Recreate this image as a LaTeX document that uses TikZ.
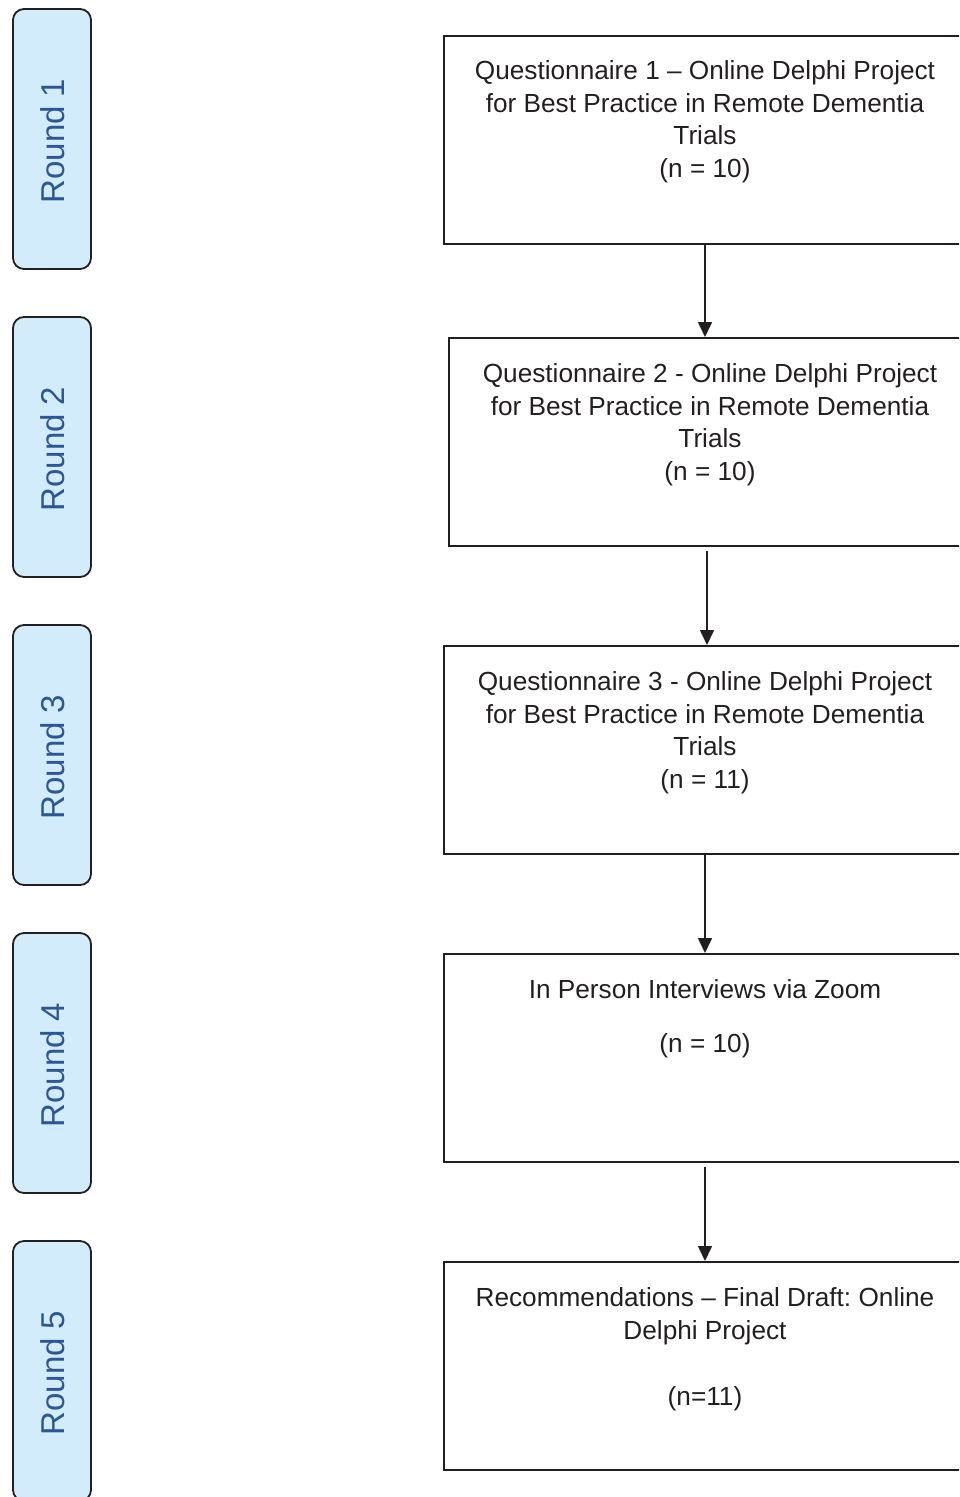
\documentclass[tikz,border=0pt]{standalone}
\usepackage{fontspec}
\setmainfont{Liberation Sans}
\usetikzlibrary{arrows.meta}
\frenchspacing
\definecolor{roundfill}{HTML}{D3ECFB}
\definecolor{roundtext}{HTML}{2B5797}
\definecolor{ink}{HTML}{231F20}
\tikzset{
  roundbox/.style={draw=ink, line width=1.8pt, fill=roundfill, rounded corners=11pt,
    minimum width=78pt, minimum height=260pt, inner sep=0pt},
  roundlabel/.style={rotate=90, text=roundtext, font=\fontsize{33}{38}\selectfont, inner sep=0pt},
  qbox/.style={draw=ink, line width=1.6pt, minimum width=560pt, minimum height=208pt,
    anchor=north west, inner sep=0pt},
  qtext/.style={anchor=north, align=center, inner sep=0pt, text=ink,
    font=\fontsize{26.2}{32.9}\selectfont},
  arr/.style={draw=ink, line width=1.6pt, -{Triangle[width=14pt,length=15pt]}}
}
\begin{document}
\begin{tikzpicture}[x=1pt,y=1pt]
\useasboundingbox (0,0) rectangle (959,-1497);
\clip (0,0) rectangle (959,-1497);
% round boxes
\node[roundbox] (r1) at (52,-139) {};
\node[roundlabel] (l1) at ([shift={(1,-2)}]r1.center) {Round 1};
\node[roundbox] (r2) at (52,-447) {};
\node[roundlabel] (l2) at ([shift={(1,-2)}]r2.center) {Round 2};
\node[roundbox] (r3) at (52,-755) {};
\node[roundlabel] (l3) at ([shift={(1,-2)}]r3.center) {Round 3};
\node[roundbox] (r4) at (52,-1063) {};
\node[roundlabel] (l4) at ([shift={(1,-2)}]r4.center) {Round 4};
\node[roundbox] (r5) at (52,-1371) {};
\node[roundlabel] (l5) at ([shift={(1,-2)}]r5.center) {Round 5};
% main boxes
\node[qbox] (q1) at (443,-35) {};
\node[qtext] (t1) at (705,-60) {Questionnaire 1 – Online Delphi Project\\for Best Practice in Remote Dementia\\Trials\\(n = 10)};
\node[qbox] (q2) at (448,-337) {};
\node[qtext] (t2) at (710,-363) {Questionnaire 2 - Online Delphi Project\\for Best Practice in Remote Dementia\\Trials\\(n = 10)};
\node[qbox] (q3) at (443,-645) {};
\node[qtext] (t3) at (705,-671) {Questionnaire 3 - Online Delphi Project\\for Best Practice in Remote Dementia\\Trials\\(n = 11)};
\node[qbox] (q4) at (443,-953) {};
\node[qtext] (t4) at (705,-979) {In Person Interviews via Zoom\\[21pt](n = 10)};
\node[qbox] (q5) at (443,-1261) {};
\node[qtext] (t5) at (705,-1287) {Recommendations – Final Draft: Online\\Delphi Project\\[33.5pt](n=11)};
% arrows
\coordinate (a1) at (705,0);
\coordinate (a2) at (707,0);
\draw[arr] (q1.south -| a1) -- (q2.north -| a1);
\draw[arr, shorten <=4pt] (q2.south -| a2) -- (q3.north -| a2);
\draw[arr] (q3.south -| a1) -- (q4.north -| a1);
\draw[arr, shorten <=4pt] (q4.south -| a1) -- (q5.north -| a1);
\end{tikzpicture}
\end{document}
